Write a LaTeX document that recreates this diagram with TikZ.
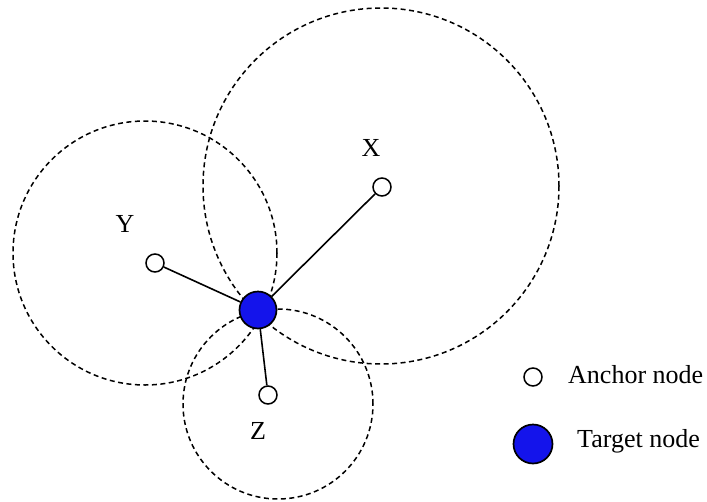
\documentclass[tikz,border=0pt]{standalone}
\usepackage{fontspec}
\setmainfont{Liberation Serif}

\begin{document}
\begin{tikzpicture}[
    x=1pt, y=-1pt,
    font=\fontsize{26}{30}\selectfont,
    anchornode/.style={circle, draw=black, fill=white, line width=1.5pt, minimum size=18pt, inner sep=0pt},
    targetnode/.style={circle, draw=black, fill=targetblue, line width=1.7pt, minimum size=37pt, inner sep=0pt},
    rangecircle/.style={draw=black, line width=1.5pt, dash pattern=on 5pt off 3.5pt},
    link/.style={draw=black, line width=1.6pt},
    namelabel/.style={anchor=base, inner sep=0pt},
    legendtext/.style={anchor=base west, inner sep=0pt}
]
\definecolor{targetblue}{RGB}{20,20,235}
\useasboundingbox (0,0) rectangle (707,501);

% ranges of the anchors
\draw[rangecircle] (381,186) circle[radius=178pt];
\draw[rangecircle] (145,253) circle[radius=132pt];
\draw[rangecircle] (278,404) circle[radius=95pt];

% anchors and target
\node[anchornode] (ax) at (382,187) {};
\node[anchornode] (ay) at (155,263) {};
\node[anchornode] (az) at (268,395) {};
\node[targetnode] (target) at (258,310) {};
\draw[link] (target) -- (ax);
\draw[link] (target) -- (ay);
\draw[link] (target) -- (az);

\node[namelabel] (lx) at (371,156) {X};
\node[namelabel] (ly) at (125,232) {Y};
\node[namelabel] (lz) at (258,439) {Z};

% legend
\node[anchornode] (keyanchor) at (533,377) {};
\node[legendtext] (keyanchortext) at (568,383) {Anchor node};
\node[targetnode, minimum size=39pt] (keytarget) at (533,444) {};
\node[legendtext] (keytargettext) at (577,447) {Target node};
\end{tikzpicture}
\end{document}
